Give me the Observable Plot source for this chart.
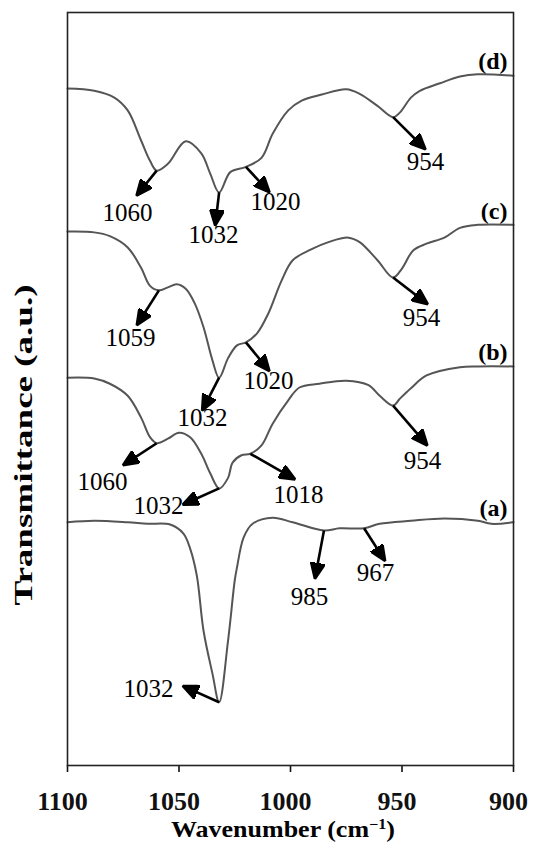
<!DOCTYPE html>
<html>
<head>
<meta charset="utf-8">
<script src="https://cdn.jsdelivr.net/npm/d3@7"></script>
<script src="https://cdn.jsdelivr.net/npm/@observablehq/plot@0.6"></script>
<style>
  html, body { margin: 0; padding: 0; background: #fff; }
  #figure { position: relative; width: 534px; height: 854px; font-family: "Liberation Serif", "Times New Roman", serif; color: #000; }
  #figure svg { display: block; }
  .axis-title { position: absolute; font-weight: bold; white-space: nowrap; line-height: 1; transform-origin: center; }
  #ytitle { left: 23px; top: 445px; font-size: 25px; transform: translate(-50%, -50%) rotate(-90deg) scaleX(1.48); }
  #xtitle { left: 283px; top: 829px; font-size: 23px; transform: translate(-50%, -50%) scaleX(1.13); }
  #xtitle sup { font-size: 0.62em; position: relative; top: -0.55em; vertical-align: baseline; }
</style>
</head>
<body>
<div id="figure">
  <div id="ytitle" class="axis-title">Transmittance (a.u.)</div>
  <div id="xtitle" class="axis-title">Wavenumber (cm<sup>−1</sup>)</div>
</div>
<script>
// FT-IR spectra, offset vertically: wavenumber (cm-1) and transmittance (a.u.)
const xTicks = [1100, 1050, 1000, 950, 900];

const wnD = [1100, 1088, 1079, 1073, 1067, 1063, 1060, 1055, 1047, 1040, 1036, 1032, 1027, 1020, 1013, 1008, 1001, 995, 986, 975, 969, 961, 954, 951, 946, 942, 933, 924, 916, 900];
const tD  = [89.9, 89.6, 88.7, 87.0, 83.0, 80.3, 79.0, 79.9, 82.9, 81.3, 78.6, 76.1, 78.8, 79.5, 80.7, 83.9, 87.0, 88.3, 89.1, 89.8, 89.2, 87.6, 86.1, 86.7, 88.7, 89.6, 90.6, 91.5, 91.8, 91.6];

const wnC = [1100, 1088, 1081, 1073, 1067, 1063, 1059, 1055, 1051, 1047, 1043, 1039, 1035, 1032, 1028, 1024, 1020, 1015, 1010, 1004, 999, 991, 983, 974, 969, 961, 954, 950, 945, 939, 931, 924, 916, 900];
const tC  = [70.9, 70.8, 70.3, 68.8, 66.1, 63.7, 63.1, 63.5, 63.9, 63.3, 61.4, 58.2, 53.8, 51.5, 54.1, 55.8, 56.2, 57.4, 60.0, 64.4, 67.1, 68.5, 69.5, 70.1, 69.5, 67.1, 64.8, 66.0, 68.4, 69.3, 70.1, 71.4, 71.8, 71.8];

const wnB = [1100, 1088, 1081, 1073, 1067, 1063, 1060, 1055, 1050, 1045, 1040, 1036, 1032, 1028, 1026, 1022, 1018, 1013, 1008, 1001, 996, 987, 975, 965, 960, 954, 951, 946, 939, 924, 916, 900];
const tB  = [51.5, 51.4, 50.7, 49.1, 46.2, 43.6, 42.8, 43.4, 44.2, 43.6, 41.4, 38.8, 36.8, 38.2, 40.2, 41.2, 41.4, 42.5, 45.4, 48.5, 50.2, 50.7, 51.1, 50.5, 49.1, 47.8, 48.7, 50.1, 51.8, 52.9, 53.0, 53.0];

const wnA = [1100, 1088, 1073, 1064, 1054, 1048, 1045, 1042, 1039, 1035, 1032, 1028, 1025, 1024, 1021, 1017, 1008, 999, 985, 978, 967, 960, 946, 931, 916, 910, 900];
const tA  = [32.3, 32.5, 32.3, 32.1, 32.0, 30.8, 28.8, 25.2, 17.9, 12.2, 8.4, 16.6, 24.6, 26.3, 30.3, 32.1, 32.9, 32.3, 31.2, 31.5, 31.5, 32.1, 32.5, 32.8, 32.5, 32.1, 32.3];

// Band positions marked on each spectrum
const peaksD = [1060, 1032, 1020, 954];
const peaksC = [1059, 1032, 1020, 954];
const peaksB = [1060, 1032, 1018, 954];
const peaksA = [1032, 985, 967];

// Callout placement (arrow tip and number), in wavenumber / a.u.
const calloutLayout = {
  "d1060": {tip: [1068.2, 76.0], at: [1073.1, 73.4]},
  "d1032": {tip: [1033.6, 72.1], at: [1034.5, 70.5]},
  "d1020": {tip: [1010.3, 76.4], at: [1006.7, 74.8]},
  "d954":  {tip: [940.4, 82.1],  at: [939.5, 80.1]},
  "c1059": {tip: [1068.2, 58.8], at: [1071.7, 56.8]},
  "c1032": {tip: [1039.0, 47.5], at: [1039.5, 46.1]},
  "c1020": {tip: [1010.3, 52.7], at: [1009.9, 51.1]},
  "c954":  {tip: [939.5, 61.5],  at: [941.3, 59.4]},
  "b1060": {tip: [1074.0, 40.1], at: [1084.3, 37.7]},
  "b1032": {tip: [1047.1, 34.8], at: [1059.2, 34.5]},
  "b1018": {tip: [999.1, 38.2],  at: [996.4, 35.9]},
  "b954":  {tip: [939.5, 42.8],  at: [940.8, 40.5]},
  "a1032": {tip: [1047.1, 10.4], at: [1063.7, 10.2]},
  "a985":  {tip: [988.8, 25.2],  at: [991.5, 22.4]},
  "a967":  {tip: [958.3, 27.5],  at: [961.9, 25.5]}
};

const spectra = [
  {id: "a", wn: wnA, t: tA, peaks: peaksA},
  {id: "b", wn: wnB, t: tB, peaks: peaksB},
  {id: "c", wn: wnC, t: tC, peaks: peaksC},
  {id: "d", wn: wnD, t: tD, peaks: peaksD}
];

const points = spectra.flatMap(s => s.wn.map((w, i) => ({curve: s.id, wn: w, t: s.t[i]})));

const callouts = spectra.flatMap(s => s.peaks.map(p => {
  const i = s.wn.indexOf(p);
  const L = calloutLayout[s.id + p];
  return {curve: s.id, wn: p, t: s.t[i], tipWn: L.tip[0], tipT: L.tip[1], textWn: L.at[0], textT: L.at[1]};
}));

const ends = spectra.map(s => ({label: `(${s.id})`, wn: s.wn[s.wn.length - 1], t: s.t[s.t.length - 1]}));

// Solid triangular arrowhead
function solidHead(color) {
  const ns = "http://www.w3.org/2000/svg";
  const m = document.createElementNS(ns, "marker");
  m.setAttribute("viewBox", "-13 -7.5 17 15");
  m.setAttribute("markerWidth", 17);
  m.setAttribute("markerHeight", 15);
  m.setAttribute("markerUnits", "userSpaceOnUse");
  m.setAttribute("orient", "auto");
  const p = document.createElementNS(ns, "path");
  p.setAttribute("d", "M-13,-7L3,0L-13,7Z");
  p.setAttribute("fill", color);
  m.appendChild(p);
  return m;
}

function build(marker) {
  return Plot.plot({
    width: 534,
    height: 854,
    marginLeft: 67,
    marginRight: 21,
    marginTop: 12,
    marginBottom: 89,
    style: {fontFamily: "'Liberation Serif', 'Times New Roman', serif", background: "#fff", color: "#000"},
    x: {domain: [1100, 900], label: null},
    y: {domain: [0, 100], axis: null},
    marks: [
      Plot.axisX(xTicks, {tickSize: 7, tickFormat: () => "", stroke: "#111", strokeWidth: 1.6, label: null}),
      Plot.axisX(xTicks, {tickSize: 0, tickPadding: 26, dx: -5, fontSize: 26, fontWeight: "bold", fill: "#111", tickFormat: d => `${d}`, label: null}),
      Plot.line(points, {x: "wn", y: "t", z: "curve", stroke: "#555", strokeWidth: 2, curve: "catmull-rom"}),
      Plot.link(callouts, {x1: "wn", y1: "t", x2: "tipWn", y2: "tipT", stroke: "#000", strokeWidth: 2.6, markerEnd: marker}),
      Plot.text(callouts, {x: "textWn", y: "textT", text: d => `${d.wn}`, fontSize: 25, fill: "#000"}),
      Plot.text(ends, {x: "wn", y: "t", text: "label", textAnchor: "end", dx: -6, dy: -14, fontSize: 24, fontWeight: "bold", fill: "#000"}),
      Plot.frame({stroke: "#222", strokeWidth: 1.6})
    ]
  });
}

let chart;
try {
  chart = build(solidHead);
} catch (e) {
  chart = build("arrow");
}
document.getElementById("figure").prepend(chart);
</script>
</body>
</html>
